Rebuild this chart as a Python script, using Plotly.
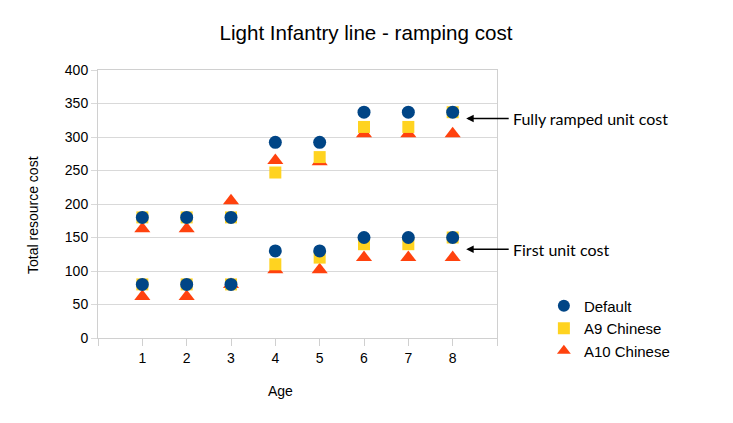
import plotly.graph_objects as go

ages = [1, 2, 3, 4, 5, 6, 7, 8]
default_first = [80, 80, 80, 130, 130, 150, 150, 150]
default_full = [180, 180, 180, 292, 292, 337, 337, 337]
a9_first = [80, 80, 80, 110, 120, 140, 140, 150]
a9_full = [180, 180, 180, 247, 270, 315, 315, 337]
a10_first = [62, 62, 80, 102, 102, 120, 120, 120]
a10_full = [163, 163, 205, 265, 263, 305, 305, 305]
y_ticks = [0, 50, 100, 150, 200, 250, 300, 350, 400]

series = [
    ("A10 Chinese", a10_first, a10_full, "triangle-up", "#ff420e", 14),
    ("A9 Chinese", a9_first, a9_full, "square", "#ffd320", 12),
    ("Default", default_first, default_full, "circle", "#004586", 13),
]

fig = go.Figure()
for name, first, full, sym, col, size in series:
    fig.add_trace(go.Scatter(
        x=ages + ages, y=first + full, mode="markers", name=name,
        marker=dict(symbol=sym, color=col, size=size, line=dict(width=0)),
    ))

fig.update_layout(
    width=733, height=423,
    margin=dict(l=90, r=244, t=62, b=93),
    paper_bgcolor="white", plot_bgcolor="white",
    font=dict(family="Liberation Sans", size=14, color="#000000"),
    title=dict(text="Light Infantry line - ramping cost", x=(366 - 8) / 733, xref="container",
               y=1 - 25 / 423, yref="container", xanchor="center", yanchor="middle",
               font=dict(size=20.6, family="Liberation Sans", color="#000000")),
    legend=dict(x=1.1175, y=0.181, xanchor="left", yanchor="top",
                traceorder="reversed", font=dict(size=15),
                itemsizing="constant", itemwidth=30, tracegroupgap=0),
    showlegend=True,
)
fig.update_xaxes(
    range=[0, 9], tickvals=list(range(0, 10)),
    ticktext=[""] + [str(a) for a in ages] + [""],
    showgrid=False, zeroline=False, showline=True, mirror=True,
    linecolor="#d0d0d0", linewidth=1, automargin=False,
    ticks="outside", ticklen=7, tickcolor="#d0d0d0",
)
fig.update_yaxes(
    range=[0, 400], tickvals=y_ticks,
    showgrid=True, gridcolor="#d9d9d9", zeroline=False,
    showline=True, linecolor="#d0d0d0", mirror=True, automargin=False,
    ticks="outside", ticklen=6, tickcolor="#d9d9d9",
)

# axis titles placed like the original
fig.add_annotation(text="Age", xref="paper", yref="paper", x=0.4586, y=-0.198,
                   showarrow=False, xanchor="center", yanchor="middle",
                   font=dict(size=14))
fig.add_annotation(text="Total resource cost", xref="paper", yref="paper",
                   x=-0.163, y=0.459, textangle=-90, showarrow=False,
                   xanchor="center", yanchor="middle", font=dict(size=14))

arrows = [(327.5, "Fully ramped unit cost"), (132.5, "First unit cost")]
for yv, txt in arrows:
    fig.add_annotation(x=8.305, y=yv, xref="x", yref="y", text="",
                       showarrow=True, arrowhead=2, arrowsize=1, arrowwidth=1.5,
                       arrowcolor="#000000", ax=44, ay=0)
    fig.add_annotation(x=8.305, y=yv, xref="x", yref="y", text=txt,
                       showarrow=False, xanchor="left", xshift=45,
                       font=dict(family="Lato", size=16, color="#000000"))

fig.write_html("out.html")
